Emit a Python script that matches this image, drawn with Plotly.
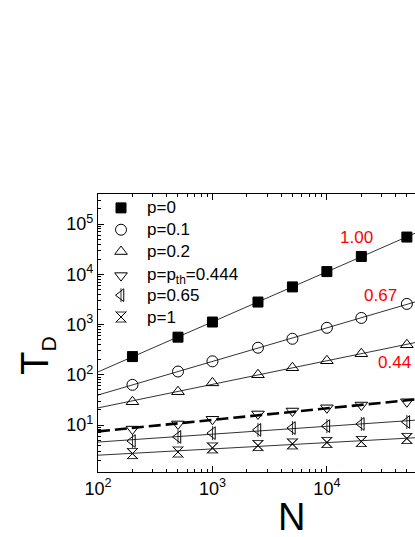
import numpy as np
import plotly.graph_objects as go

# system sizes and relaxation times
N = [200, 500, 1000, 2500, 5000, 10000, 20000, 50000]
t_p0 = [230, 560, 1120, 2800, 5600, 11300, 22600, 55000]
t_p01 = [63, 116, 185, 345, 520, 860, 1350, 2570]
t_p02 = [29, 46, 69, 100, 138, 190, 262, 395]
t_pth = [8.3, 10.5, 13, 16.6, 19, 22, 25, 29]
t_p065 = [4.8, 5.8, 6.9, 8.0, 8.7, 9.5, 10.5, 11.5]
t_p1 = [2.7, 2.9, 3.5, 3.9, 4.2, 4.5, 4.7, 5.4]

slope_labels = ["1.00", "0.67", "0.44"]
FONT = "Liberation Sans, Arial, sans-serif"

series = [
    ("p=0", t_p0, "square", "solid", 1),
    ("p=0.1", t_p01, "circle-open", "solid", 1),
    ("p=0.2", t_p02, "triangle-up-open", "solid", 1),
    ("p=p<sub>th</sub>=0.444", t_pth, "triangle-down-open", "12px,5px", 2.6),
    ("p=0.65", t_p065, "triangle-left-open", "solid", 1),
    ("p=1", t_p1, "x-thin-open", "solid", 1),
]
extra = {"triangle-left-open": "line-ns-open", "x-thin-open": "hourglass-open"}

fig = go.Figure()
xfit = np.logspace(2, 4.85, 50)
for name, t, sym, dash, w in series:
    k, b = np.polyfit(np.log10(N), np.log10(t), 1)
    fig.add_trace(go.Scatter(x=xfit, y=10 ** (b + k * np.log10(xfit)), mode="lines",
                             line=dict(color="#333" if dash == "solid" else "black", width=w, dash=dash),
                             showlegend=False, hoverinfo="skip"))


def marker(sym):
    return dict(symbol=sym, size=10 if sym == "square" else 11, color="black",
                line=dict(color="black", width=1))


for name, t, sym, dash, w in series:
    fig.add_trace(go.Scatter(x=N, y=t, mode="markers", name=name, showlegend=False, marker=marker(sym)))
    if sym in extra:
        fig.add_trace(go.Scatter(x=N, y=t, mode="markers", showlegend=False,
                                 marker=dict(symbol=extra[sym], size=10, color="black",
                                             line=dict(color="black", width=0.8))))

# hand-drawn legend in the upper left corner of the frame
leg_y = [0.950 - 0.0785 * i for i in range(len(series))]
leg_y[3] -= 0.008
for (name, t, sym, dash, w), yy in zip(series, leg_y):
    fig.add_trace(go.Scatter(x=[0.0726], y=[yy], xaxis="x2", yaxis="y2", mode="markers",
                             showlegend=False, hoverinfo="skip", marker=marker(sym)))
    if sym in extra:
        fig.add_trace(go.Scatter(x=[0.0726], y=[yy], xaxis="x2", yaxis="y2", mode="markers",
                                 showlegend=False, hoverinfo="skip",
                                 marker=dict(symbol=extra[sym], size=10, color="black",
                                             line=dict(color="black", width=0.8))))
    fig.add_annotation(x=0.148, y=yy, xref="x2", yref="y2", text=name, showarrow=False,
                       xanchor="left", yanchor="middle", font=dict(size=17, family=FONT, color="black"))

# slope labels
for lab, t, dx, dy in zip(slope_labels, [t_p0, t_p01, t_p02], [-32, -8, 6], [0, 8, -18]):
    fig.add_annotation(x=np.log10(N[-1]), y=np.log10(t[-1]), text=lab, showarrow=False,
                       xanchor="right", xshift=dx, yshift=dy,
                       font=dict(color="red", size=17, family=FONT))

fig.add_annotation(x=-0.27, y=0.42, xref="paper", yref="paper",
                   text="T<sub><span style='font-size:21px'>D</span></sub>",
                   textangle=-90, showarrow=False, font=dict(size=38, family=FONT, color="black"))
fig.add_annotation(x=0.61, y=-0.245, xref="paper", yref="paper", text="N",
                   showarrow=False, font=dict(size=38, family=FONT, color="black"))


def decade_ticks(lo, hi):
    vals = [10 ** e for e in range(lo, hi + 1)]
    text = ["10<sup>%d</sup>" % e for e in range(lo, hi + 1)]
    minor = [m * 10 ** e for e in range(lo - 1, hi + 1) for m in range(2, 10)]
    return vals, text, minor


axis_common = dict(type="log", showgrid=False, zeroline=False,
                   showline=True, linecolor="black", linewidth=1.2, ticks="inside", ticklen=6,
                   tickcolor="black", tickfont=dict(size=18, family=FONT, color="black"))

xv, xt, xm = decade_ticks(2, 5)
yv, yt, ym = decade_ticks(0, 5)
fig.update_xaxes(range=[2, 4.77], mirror="ticks", tickmode="array", tickvals=xv, ticktext=xt,
                 minor=dict(ticks="inside", ticklen=3, tickvals=xm, tickcolor="black", showgrid=False),
                 **axis_common)
fig.update_yaxes(range=[0.065, 5.597], mirror=False, tickmode="array", tickvals=yv, ticktext=yt,
                 minor=dict(ticks="inside", ticklen=3, tickvals=ym, tickcolor="black", showgrid=False),
                 **axis_common)

fig.update_layout(
    width=415, height=537,
    margin=dict(l=98, r=0, t=194, b=65),
    plot_bgcolor="white", paper_bgcolor="white",
    font=dict(family=FONT, color="black"),
    showlegend=False,
    xaxis2=dict(domain=[0, 1], range=[0, 1], overlaying="x", anchor="y2", visible=False),
    yaxis2=dict(domain=[0, 1], range=[0, 1], overlaying="y", anchor="x2", visible=False),
)

fig.write_html("out.html", config={"displayModeBar": False},
               post_script="document.body.style.margin='0';document.body.style.overflow='hidden';")
